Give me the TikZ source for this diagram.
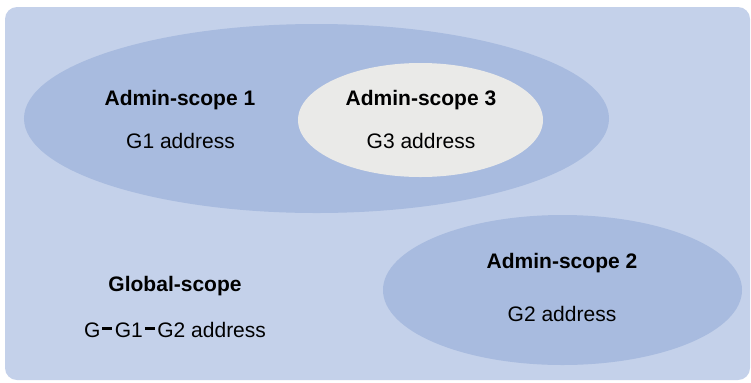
\documentclass[tikz,border=0pt]{standalone}
\usepackage{fontspec}
\setmainfont{Liberation Sans}
\usetikzlibrary{shapes.geometric}
\definecolor{bgblue}{RGB}{196,209,234}
\definecolor{scopeblue}{RGB}{168,187,223}
\definecolor{scopegrey}{RGB}{234,234,232}
\newcommand{\gdash}{\kern2bp\rule[7.5bp]{10bp}{2.8bp}\kern2.5bp}
\begin{document}
\begin{tikzpicture}[x=1bp,y=-1bp,
  scope/.style={ellipse,draw=none,inner sep=0pt,fill=scopeblue},
  title/.style={anchor=base,inner sep=0pt,font=\fontsize{21bp}{25bp}\selectfont\bfseries},
  addr/.style={anchor=base,inner sep=0pt,font=\fontsize{21bp}{25bp}\selectfont}]
\useasboundingbox (0,0) rectangle (751,382);
\fill[bgblue,rounded corners=12bp] (5,7) rectangle (750,380);
\node[scope,minimum width=585bp,minimum height=189bp] (s1) at (316.5,118.5) {};
\node[scope,fill=scopegrey,minimum width=245bp,minimum height=114bp] (s3) at (420.5,120) {};
\node[scope,minimum width=359bp,minimum height=150bp] (s2) at (562.5,290) {};
\node[title] (t1) at (180,105) {Admin-scope 1};
\node[addr] (a1) at (180.5,148) {G1 address};
\node[title] (t3) at (421,105) {Admin-scope 3};
\node[addr] (a3) at (421,148) {G3 address};
\node[title] (t2) at (562,268) {Admin-scope 2};
\node[addr] (a2) at (562,321) {G2 address};
\node[title] (tg) at (175,291) {Global-scope};
\node[addr] (ag) at (175,337) {G\gdash G1\gdash G2 address};
\end{tikzpicture}
\end{document}
